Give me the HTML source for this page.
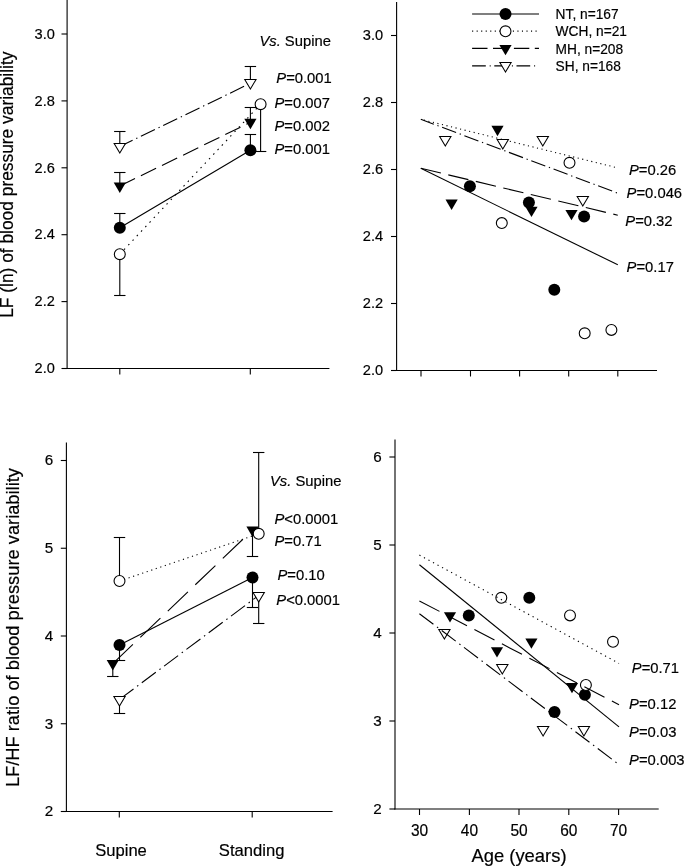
<!DOCTYPE html>
<html><head><meta charset="utf-8"><title>Figure</title>
<style>
html,body{margin:0;padding:0;background:#fff;}
body{width:685px;height:866px;overflow:hidden;}
svg{display:block;filter:grayscale(1);}
text{font-family:"Liberation Sans",sans-serif;fill:#000;stroke:#000;stroke-width:0.18px;}
</style></head><body>
<svg width="685" height="866" viewBox="0 0 685 866">
<rect width="685" height="866" fill="#fff"/>
<line x1="67.1" y1="0" x2="67.1" y2="369.05" stroke="#000" stroke-width="1.1" stroke-linecap="butt"/>
<line x1="66.55" y1="368.5" x2="329.4" y2="368.5" stroke="#000" stroke-width="1.1" stroke-linecap="butt"/>
<line x1="61.49999999999999" y1="368.5" x2="67.1" y2="368.5" stroke="#000" stroke-width="1.1" stroke-linecap="butt"/>
<text transform="translate(54.90,373.25) scale(1,0.99)" font-size="14.6" text-anchor="end" >2.0</text>
<line x1="61.49999999999999" y1="301.5999999999999" x2="67.1" y2="301.5999999999999" stroke="#000" stroke-width="1.1" stroke-linecap="butt"/>
<text transform="translate(54.90,306.35) scale(1,0.99)" font-size="14.6" text-anchor="end" >2.2</text>
<line x1="61.49999999999999" y1="234.70000000000002" x2="67.1" y2="234.70000000000002" stroke="#000" stroke-width="1.1" stroke-linecap="butt"/>
<text transform="translate(54.90,239.45) scale(1,0.99)" font-size="14.6" text-anchor="end" >2.4</text>
<line x1="61.49999999999999" y1="167.79999999999998" x2="67.1" y2="167.79999999999998" stroke="#000" stroke-width="1.1" stroke-linecap="butt"/>
<text transform="translate(54.90,172.55) scale(1,0.99)" font-size="14.6" text-anchor="end" >2.6</text>
<line x1="61.49999999999999" y1="100.90000000000003" x2="67.1" y2="100.90000000000003" stroke="#000" stroke-width="1.1" stroke-linecap="butt"/>
<text transform="translate(54.90,105.65) scale(1,0.99)" font-size="14.6" text-anchor="end" >2.8</text>
<line x1="61.49999999999999" y1="34.0" x2="67.1" y2="34.0" stroke="#000" stroke-width="1.1" stroke-linecap="butt"/>
<text transform="translate(54.90,38.75) scale(1,0.99)" font-size="14.6" text-anchor="end" >3.0</text>
<line x1="119.8" y1="368.5" x2="119.8" y2="374.5" stroke="#000" stroke-width="1.1" stroke-linecap="butt"/>
<line x1="250.3" y1="368.5" x2="250.3" y2="374.5" stroke="#000" stroke-width="1.1" stroke-linecap="butt"/>
<line x1="119.8" y1="227.8" x2="250.4" y2="150.2" stroke="#000" stroke-width="1.1" stroke-linecap="butt"/>
<line x1="119.8" y1="254.2" x2="260.6" y2="104.2" stroke="#000" stroke-width="1.1" stroke-linecap="butt" stroke-dasharray="1.51 4.70" stroke-dashoffset="0.0"/>
<line x1="119.8" y1="186" x2="250.4" y2="122.3" stroke="#000" stroke-width="1.1" stroke-linecap="butt" stroke-dasharray="16.91 6.56" stroke-dashoffset="0.0"/>
<line x1="119.8" y1="146.5" x2="250.4" y2="83.3" stroke="#000" stroke-width="1.1" stroke-linecap="butt" stroke-dasharray="15.55 4.00 1.33 3.89" stroke-dashoffset="1.3331232680608136"/>
<line x1="119.8" y1="146.5" x2="119.8" y2="131.5" stroke="#000" stroke-width="1.1" stroke-linecap="butt"/>
<line x1="114.1" y1="131.5" x2="125.5" y2="131.5" stroke="#000" stroke-width="1.1" stroke-linecap="butt"/>
<line x1="250.4" y1="83.3" x2="250.4" y2="66.5" stroke="#000" stroke-width="1.1" stroke-linecap="butt"/>
<line x1="244.70000000000002" y1="66.5" x2="256.1" y2="66.5" stroke="#000" stroke-width="1.1" stroke-linecap="butt"/>
<line x1="119.8" y1="186" x2="119.8" y2="172.5" stroke="#000" stroke-width="1.1" stroke-linecap="butt"/>
<line x1="114.1" y1="172.5" x2="125.5" y2="172.5" stroke="#000" stroke-width="1.1" stroke-linecap="butt"/>
<line x1="250.4" y1="122.3" x2="250.4" y2="107.5" stroke="#000" stroke-width="1.1" stroke-linecap="butt"/>
<line x1="244.70000000000002" y1="107.5" x2="256.1" y2="107.5" stroke="#000" stroke-width="1.1" stroke-linecap="butt"/>
<line x1="119.8" y1="227.8" x2="119.8" y2="213.5" stroke="#000" stroke-width="1.1" stroke-linecap="butt"/>
<line x1="114.1" y1="213.5" x2="125.5" y2="213.5" stroke="#000" stroke-width="1.1" stroke-linecap="butt"/>
<line x1="250.4" y1="150.2" x2="250.4" y2="134.5" stroke="#000" stroke-width="1.1" stroke-linecap="butt"/>
<line x1="244.70000000000002" y1="134.5" x2="256.1" y2="134.5" stroke="#000" stroke-width="1.1" stroke-linecap="butt"/>
<line x1="119.8" y1="254.2" x2="119.8" y2="295.5" stroke="#000" stroke-width="1.1" stroke-linecap="butt"/>
<line x1="114.1" y1="295.5" x2="125.5" y2="295.5" stroke="#000" stroke-width="1.1" stroke-linecap="butt"/>
<line x1="260.6" y1="104.2" x2="260.6" y2="151.5" stroke="#000" stroke-width="1.1" stroke-linecap="butt"/>
<line x1="254.90000000000003" y1="151.5" x2="266.3" y2="151.5" stroke="#000" stroke-width="1.1" stroke-linecap="butt"/>
<path d="M114.15,143.50L125.45,143.50L119.80,153.05Z" fill="#fff" stroke="#000" stroke-width="1.05" stroke-linejoin="miter"/>
<path d="M244.75,79.50L256.05,79.50L250.40,89.05Z" fill="#fff" stroke="#000" stroke-width="1.05" stroke-linejoin="miter"/>
<path d="M113.7,182.5L125.89999999999999,182.5L119.8,192.9Z" fill="#000"/>
<path d="M244.3,118.8L256.5,118.8L250.4,129.2Z" fill="#000"/>
<circle cx="119.8" cy="227.8" r="6" fill="#000"/>
<circle cx="250.4" cy="150.2" r="6" fill="#000"/>
<circle cx="119.8" cy="254.2" r="5.45" fill="#fff" stroke="#000" stroke-width="1.1"/>
<circle cx="260.6" cy="104.2" r="5.45" fill="#fff" stroke="#000" stroke-width="1.1"/>
<text transform="translate(259.4,46.4) scale(1,1.04)" font-size="14.8"><tspan font-style="italic">Vs.</tspan> Supine</text>
<text transform="translate(276.30,83.30) scale(1,1.04)" font-size="14.8"><tspan font-style="italic">P</tspan>=0.001</text>
<text transform="translate(274.50,107.90) scale(1,1.04)" font-size="14.8"><tspan font-style="italic">P</tspan>=0.007</text>
<text transform="translate(274.50,130.60) scale(1,1.04)" font-size="14.8"><tspan font-style="italic">P</tspan>=0.002</text>
<text transform="translate(274.50,154.40) scale(1,1.04)" font-size="14.8"><tspan font-style="italic">P</tspan>=0.001</text>
<text transform="translate(13.4,317.8) rotate(-90) scale(1,1.08)" font-size="17.37">LF (ln) of blood pressure variability</text>
<line x1="396.6" y1="2" x2="396.6" y2="371.05" stroke="#000" stroke-width="1.1" stroke-linecap="butt"/>
<line x1="396.05" y1="370.5" x2="657" y2="370.5" stroke="#000" stroke-width="1.1" stroke-linecap="butt"/>
<line x1="391.0" y1="370.5" x2="396.6" y2="370.5" stroke="#000" stroke-width="1.1" stroke-linecap="butt"/>
<text transform="translate(383.10,375.45) scale(1,1.03)" font-size="14.6" text-anchor="end" >2.0</text>
<line x1="391.0" y1="303.49999999999994" x2="396.6" y2="303.49999999999994" stroke="#000" stroke-width="1.1" stroke-linecap="butt"/>
<text transform="translate(383.10,308.45) scale(1,1.03)" font-size="14.6" text-anchor="end" >2.2</text>
<line x1="391.0" y1="236.50000000000003" x2="396.6" y2="236.50000000000003" stroke="#000" stroke-width="1.1" stroke-linecap="butt"/>
<text transform="translate(383.10,241.45) scale(1,1.03)" font-size="14.6" text-anchor="end" >2.4</text>
<line x1="391.0" y1="169.49999999999997" x2="396.6" y2="169.49999999999997" stroke="#000" stroke-width="1.1" stroke-linecap="butt"/>
<text transform="translate(383.10,174.45) scale(1,1.03)" font-size="14.6" text-anchor="end" >2.6</text>
<line x1="391.0" y1="102.50000000000006" x2="396.6" y2="102.50000000000006" stroke="#000" stroke-width="1.1" stroke-linecap="butt"/>
<text transform="translate(383.10,107.45) scale(1,1.03)" font-size="14.6" text-anchor="end" >2.8</text>
<line x1="391.0" y1="35.5" x2="396.6" y2="35.5" stroke="#000" stroke-width="1.1" stroke-linecap="butt"/>
<text transform="translate(383.10,40.45) scale(1,1.03)" font-size="14.6" text-anchor="end" >3.0</text>
<line x1="421" y1="370.5" x2="421" y2="376.5" stroke="#000" stroke-width="1.1" stroke-linecap="butt"/>
<line x1="470.5" y1="370.5" x2="470.5" y2="376.5" stroke="#000" stroke-width="1.1" stroke-linecap="butt"/>
<line x1="519.6" y1="370.5" x2="519.6" y2="376.5" stroke="#000" stroke-width="1.1" stroke-linecap="butt"/>
<line x1="568.7" y1="370.5" x2="568.7" y2="376.5" stroke="#000" stroke-width="1.1" stroke-linecap="butt"/>
<line x1="617.8" y1="370.5" x2="617.8" y2="376.5" stroke="#000" stroke-width="1.1" stroke-linecap="butt"/>
<circle cx="469.9" cy="186.2" r="6" fill="#000"/>
<circle cx="528.9" cy="202.5" r="6" fill="#000"/>
<circle cx="554.3" cy="289.7" r="6" fill="#000"/>
<circle cx="584.1" cy="216.6" r="6" fill="#000"/>
<line x1="420.8" y1="168.3" x2="617.8" y2="264.8" stroke="#000" stroke-width="1.1" stroke-linecap="butt"/>
<circle cx="501.8" cy="223.1" r="5.45" fill="#fff" stroke="#000" stroke-width="1.1"/>
<circle cx="569.5" cy="162.8" r="5.45" fill="#fff" stroke="#000" stroke-width="1.1"/>
<circle cx="584.7" cy="333.3" r="5.45" fill="#fff" stroke="#000" stroke-width="1.1"/>
<circle cx="611.4" cy="329.9" r="5.45" fill="#fff" stroke="#000" stroke-width="1.1"/>
<line x1="420.8" y1="119.3" x2="617.8" y2="167.9" stroke="#000" stroke-width="1.1" stroke-linecap="butt" stroke-dasharray="1.13 3.53" stroke-dashoffset="1.544971703957227"/>
<path d="M445.5,199.6L457.70000000000005,199.6L451.6,210.0Z" fill="#000"/>
<path d="M491.4,125.80000000000001L503.6,125.80000000000001L497.5,136.20000000000002Z" fill="#000"/>
<path d="M525.4,206.7L537.6,206.7L531.5,217.1Z" fill="#000"/>
<path d="M565.4,209.9L577.6,209.9L571.5,220.3Z" fill="#000"/>
<line x1="420.8" y1="168.3" x2="617.8" y2="215.2" stroke="#000" stroke-width="1.1" stroke-linecap="butt" stroke-dasharray="20.66 7.61" stroke-dashoffset="0.0"/>
<path d="M439.65,136.50L450.95,136.50L445.30,146.05Z" fill="#fff" stroke="#000" stroke-width="1.05" stroke-linejoin="miter"/>
<path d="M497.15,139.50L508.45,139.50L502.80,149.05Z" fill="#fff" stroke="#000" stroke-width="1.05" stroke-linejoin="miter"/>
<path d="M537.15,136.50L548.45,136.50L542.80,146.05Z" fill="#fff" stroke="#000" stroke-width="1.05" stroke-linejoin="miter"/>
<path d="M577.15,196.50L588.45,196.50L582.80,206.05Z" fill="#fff" stroke="#000" stroke-width="1.05" stroke-linejoin="miter"/>
<line x1="420.8" y1="119.3" x2="617.8" y2="193.2" stroke="#000" stroke-width="1.1" stroke-linecap="butt" stroke-dasharray="14.95 3.84 1.28 3.74" stroke-dashoffset="1.068045033586827"/>
<text transform="translate(629.00,174.80) scale(1,1.04)" font-size="14.8"><tspan font-style="italic">P</tspan>=0.26</text>
<text transform="translate(626.60,197.60) scale(1,1.04)" font-size="14.8"><tspan font-style="italic">P</tspan>=0.046</text>
<text transform="translate(625.30,225.80) scale(1,1.04)" font-size="14.8"><tspan font-style="italic">P</tspan>=0.32</text>
<text transform="translate(626.60,272.00) scale(1,1.04)" font-size="14.8"><tspan font-style="italic">P</tspan>=0.17</text>
<line x1="472.1" y1="14.0" x2="539" y2="14.0" stroke="#000" stroke-width="1.1" stroke-linecap="butt"/>
<circle cx="505.5" cy="13.9" r="6" fill="#000"/>
<line x1="472.1" y1="31.1" x2="539" y2="31.1" stroke="#000" stroke-width="1.1" stroke-linecap="butt" stroke-dasharray="1.10 3.43" stroke-dashoffset="0.0"/>
<circle cx="505.5" cy="31.3" r="5.45" fill="#fff" stroke="#000" stroke-width="1.1"/>
<line x1="472.1" y1="48.4" x2="539" y2="48.4" stroke="#000" stroke-width="1.1" stroke-linecap="butt" stroke-dasharray="15.40 5.50" stroke-dashoffset="0.0"/>
<path d="M499.4,44.9L511.6,44.9L505.5,55.3Z" fill="#000"/>
<line x1="472.1" y1="65.9" x2="536" y2="65.9" stroke="#000" stroke-width="1.1" stroke-linecap="butt" stroke-dasharray="13.70 3.90 1.00 3.60" stroke-dashoffset="0.0"/>
<path d="M499.85,62.50L511.15,62.50L505.50,72.05Z" fill="#fff" stroke="#000" stroke-width="1.05" stroke-linejoin="miter"/>
<text transform="translate(555.60,18.80) scale(1,1.05)" font-size="13.75" text-anchor="start" >NT, n=167</text>
<text transform="translate(555.60,36.20) scale(1,1.05)" font-size="13.75" text-anchor="start" >WCH, n=21</text>
<text transform="translate(555.60,53.50) scale(1,1.05)" font-size="13.75" text-anchor="start" >MH, n=208</text>
<text transform="translate(555.60,70.80) scale(1,1.05)" font-size="13.75" text-anchor="start" >SH, n=168</text>
<line x1="66.4" y1="442.6" x2="66.4" y2="812.05" stroke="#000" stroke-width="1.1" stroke-linecap="butt"/>
<line x1="65.85000000000001" y1="811.5" x2="332.6" y2="811.5" stroke="#000" stroke-width="1.1" stroke-linecap="butt"/>
<line x1="60.800000000000004" y1="811.5" x2="66.4" y2="811.5" stroke="#000" stroke-width="1.1" stroke-linecap="butt"/>
<text transform="translate(53.20,816.40) scale(1,1.0)" font-size="15.2" text-anchor="end" >2</text>
<line x1="60.800000000000004" y1="723.75" x2="66.4" y2="723.75" stroke="#000" stroke-width="1.1" stroke-linecap="butt"/>
<text transform="translate(53.20,728.65) scale(1,1.0)" font-size="15.2" text-anchor="end" >3</text>
<line x1="60.800000000000004" y1="636.0" x2="66.4" y2="636.0" stroke="#000" stroke-width="1.1" stroke-linecap="butt"/>
<text transform="translate(53.20,640.90) scale(1,1.0)" font-size="15.2" text-anchor="end" >4</text>
<line x1="60.800000000000004" y1="548.25" x2="66.4" y2="548.25" stroke="#000" stroke-width="1.1" stroke-linecap="butt"/>
<text transform="translate(53.20,553.15) scale(1,1.0)" font-size="15.2" text-anchor="end" >5</text>
<line x1="60.800000000000004" y1="460.5" x2="66.4" y2="460.5" stroke="#000" stroke-width="1.1" stroke-linecap="butt"/>
<text transform="translate(53.20,465.40) scale(1,1.0)" font-size="15.2" text-anchor="end" >6</text>
<line x1="119.3" y1="811.5" x2="119.3" y2="817.5" stroke="#000" stroke-width="1.1" stroke-linecap="butt"/>
<line x1="252.2" y1="811.5" x2="252.2" y2="817.5" stroke="#000" stroke-width="1.1" stroke-linecap="butt"/>
<line x1="119.5" y1="645.1" x2="252.5" y2="577.5" stroke="#000" stroke-width="1.1" stroke-linecap="butt"/>
<line x1="119.5" y1="581" x2="258.7" y2="533.8" stroke="#000" stroke-width="1.1" stroke-linecap="butt" stroke-dasharray="1.16 3.62" stroke-dashoffset="0.0"/>
<line x1="112.8" y1="663.6" x2="252.5" y2="530.1" stroke="#000" stroke-width="1.1" stroke-linecap="butt" stroke-dasharray="27.80 10.24" stroke-dashoffset="0.0"/>
<line x1="119.5" y1="699.4" x2="258.7" y2="595.4" stroke="#000" stroke-width="1.1" stroke-linecap="butt" stroke-dasharray="17.48 4.49 1.50 4.37" stroke-dashoffset="0.0"/>
<line x1="119.5" y1="699.4" x2="119.5" y2="713.5" stroke="#000" stroke-width="1.1" stroke-linecap="butt"/>
<line x1="113.8" y1="713.5" x2="125.2" y2="713.5" stroke="#000" stroke-width="1.1" stroke-linecap="butt"/>
<line x1="258.7" y1="595.4" x2="258.7" y2="623.5" stroke="#000" stroke-width="1.1" stroke-linecap="butt"/>
<line x1="253.0" y1="623.5" x2="264.4" y2="623.5" stroke="#000" stroke-width="1.1" stroke-linecap="butt"/>
<path d="M113.85,696.50L125.15,696.50L119.50,706.05Z" fill="#fff" stroke="#000" stroke-width="1.05" stroke-linejoin="miter"/>
<path d="M253.05,592.50L264.35,592.50L258.70,602.05Z" fill="#fff" stroke="#000" stroke-width="1.05" stroke-linejoin="miter"/>
<line x1="112.8" y1="663.6" x2="112.8" y2="676.5" stroke="#000" stroke-width="1.1" stroke-linecap="butt"/>
<line x1="107.1" y1="676.5" x2="118.5" y2="676.5" stroke="#000" stroke-width="1.1" stroke-linecap="butt"/>
<line x1="252.5" y1="530.1" x2="252.5" y2="556.5" stroke="#000" stroke-width="1.1" stroke-linecap="butt"/>
<line x1="246.8" y1="556.5" x2="258.2" y2="556.5" stroke="#000" stroke-width="1.1" stroke-linecap="butt"/>
<path d="M106.7,660.1L118.89999999999999,660.1L112.8,670.5Z" fill="#000"/>
<path d="M246.4,526.6L258.6,526.6L252.5,537.0Z" fill="#000"/>
<line x1="119.5" y1="581" x2="119.5" y2="537.5" stroke="#000" stroke-width="1.1" stroke-linecap="butt"/>
<line x1="113.8" y1="537.5" x2="125.2" y2="537.5" stroke="#000" stroke-width="1.1" stroke-linecap="butt"/>
<line x1="258.7" y1="533.8" x2="258.7" y2="452.5" stroke="#000" stroke-width="1.1" stroke-linecap="butt"/>
<line x1="253.0" y1="452.5" x2="264.4" y2="452.5" stroke="#000" stroke-width="1.1" stroke-linecap="butt"/>
<circle cx="119.5" cy="581" r="5.45" fill="#fff" stroke="#000" stroke-width="1.1"/>
<circle cx="258.7" cy="533.8" r="5.45" fill="#fff" stroke="#000" stroke-width="1.1"/>
<line x1="119.5" y1="645.1" x2="119.5" y2="660.5" stroke="#000" stroke-width="1.1" stroke-linecap="butt"/>
<line x1="113.8" y1="660.5" x2="125.2" y2="660.5" stroke="#000" stroke-width="1.1" stroke-linecap="butt"/>
<line x1="252.5" y1="577.5" x2="252.5" y2="607.5" stroke="#000" stroke-width="1.1" stroke-linecap="butt"/>
<line x1="246.8" y1="607.5" x2="258.2" y2="607.5" stroke="#000" stroke-width="1.1" stroke-linecap="butt"/>
<circle cx="119.5" cy="645.1" r="6" fill="#000"/>
<circle cx="252.5" cy="577.5" r="6" fill="#000"/>
<text transform="translate(270,486.2) scale(1,1.04)" font-size="14.8"><tspan font-style="italic">Vs.</tspan> Supine</text>
<text transform="translate(274.50,523.90) scale(1,1.04)" font-size="14.8"><tspan font-style="italic">P</tspan>&lt;0.0001</text>
<text transform="translate(274.50,546.40) scale(1,1.04)" font-size="14.8"><tspan font-style="italic">P</tspan>=0.71</text>
<text transform="translate(277.50,579.90) scale(1,1.04)" font-size="14.8"><tspan font-style="italic">P</tspan>=0.10</text>
<text transform="translate(276.30,605.00) scale(1,1.04)" font-size="14.8"><tspan font-style="italic">P</tspan>&lt;0.0001</text>
<text transform="translate(19.4,787.1) rotate(-90)" font-size="18.3">LF/HF ratio of blood pressure variability</text>
<text transform="translate(121.00,855.60) scale(1,1.0)" font-size="16.6" text-anchor="middle" >Supine</text>
<text transform="translate(251.60,855.60) scale(1,1.0)" font-size="16.6" text-anchor="middle" >Standing</text>
<line x1="395.0" y1="439.5" x2="395.0" y2="809.55" stroke="#000" stroke-width="1.1" stroke-linecap="butt"/>
<line x1="394.45" y1="809.0" x2="658.7" y2="809.0" stroke="#000" stroke-width="1.1" stroke-linecap="butt"/>
<line x1="389.4" y1="809.0" x2="395.0" y2="809.0" stroke="#000" stroke-width="1.1" stroke-linecap="butt"/>
<text transform="translate(381.60,813.90) scale(1,1.0)" font-size="15.2" text-anchor="end" >2</text>
<line x1="389.4" y1="721.0" x2="395.0" y2="721.0" stroke="#000" stroke-width="1.1" stroke-linecap="butt"/>
<text transform="translate(381.60,725.90) scale(1,1.0)" font-size="15.2" text-anchor="end" >3</text>
<line x1="389.4" y1="633.0" x2="395.0" y2="633.0" stroke="#000" stroke-width="1.1" stroke-linecap="butt"/>
<text transform="translate(381.60,637.90) scale(1,1.0)" font-size="15.2" text-anchor="end" >4</text>
<line x1="389.4" y1="545.0" x2="395.0" y2="545.0" stroke="#000" stroke-width="1.1" stroke-linecap="butt"/>
<text transform="translate(381.60,549.90) scale(1,1.0)" font-size="15.2" text-anchor="end" >5</text>
<line x1="389.4" y1="457.0" x2="395.0" y2="457.0" stroke="#000" stroke-width="1.1" stroke-linecap="butt"/>
<text transform="translate(381.60,461.90) scale(1,1.0)" font-size="15.2" text-anchor="end" >6</text>
<line x1="419.5" y1="809.0" x2="419.5" y2="815.0" stroke="#000" stroke-width="1.1" stroke-linecap="butt"/>
<line x1="469.4" y1="809.0" x2="469.4" y2="815.0" stroke="#000" stroke-width="1.1" stroke-linecap="butt"/>
<line x1="519" y1="809.0" x2="519" y2="815.0" stroke="#000" stroke-width="1.1" stroke-linecap="butt"/>
<line x1="568.8" y1="809.0" x2="568.8" y2="815.0" stroke="#000" stroke-width="1.1" stroke-linecap="butt"/>
<line x1="618.6" y1="809.0" x2="618.6" y2="815.0" stroke="#000" stroke-width="1.1" stroke-linecap="butt"/>
<circle cx="468.8" cy="615.4" r="6" fill="#000"/>
<circle cx="529.3" cy="597.8" r="6" fill="#000"/>
<circle cx="554.5" cy="712" r="6" fill="#000"/>
<circle cx="584.9" cy="694.8" r="6" fill="#000"/>
<line x1="419.4" y1="564.7" x2="619" y2="726.9" stroke="#000" stroke-width="1.1" stroke-linecap="butt"/>
<circle cx="501.3" cy="597.8" r="5.45" fill="#fff" stroke="#000" stroke-width="1.1"/>
<circle cx="570" cy="615.4" r="5.45" fill="#fff" stroke="#000" stroke-width="1.1"/>
<circle cx="613" cy="641.8" r="5.45" fill="#fff" stroke="#000" stroke-width="1.1"/>
<circle cx="585.9" cy="685" r="5.45" fill="#fff" stroke="#000" stroke-width="1.1"/>
<line x1="419.4" y1="555.1" x2="619" y2="663.4" stroke="#000" stroke-width="1.1" stroke-linecap="butt" stroke-dasharray="1.25 3.90" stroke-dashoffset="0.0"/>
<path d="M443.9,612.2L456.1,612.2L450,622.6Z" fill="#000"/>
<path d="M490.9,647.2L503.1,647.2L497,657.6Z" fill="#000"/>
<path d="M525.3,638.4L537.5,638.4L531.4,648.8Z" fill="#000"/>
<path d="M565.9,682.9L578.1,682.9L572,693.3Z" fill="#000"/>
<line x1="419.4" y1="600.9" x2="619" y2="704.8" stroke="#000" stroke-width="1.1" stroke-linecap="butt" stroke-dasharray="22.66 8.34" stroke-dashoffset="0.0"/>
<path d="M438.75,629.50L450.05,629.50L444.40,639.05Z" fill="#fff" stroke="#000" stroke-width="1.05" stroke-linejoin="miter"/>
<path d="M496.65,664.50L507.95,664.50L502.30,674.05Z" fill="#fff" stroke="#000" stroke-width="1.05" stroke-linejoin="miter"/>
<path d="M537.45,726.50L548.75,726.50L543.10,736.05Z" fill="#fff" stroke="#000" stroke-width="1.05" stroke-linejoin="miter"/>
<path d="M578.25,726.50L589.55,726.50L583.90,736.05Z" fill="#fff" stroke="#000" stroke-width="1.05" stroke-linejoin="miter"/>
<line x1="419.4" y1="613.7" x2="619" y2="764.6" stroke="#000" stroke-width="1.1" stroke-linecap="butt" stroke-dasharray="17.55 4.51 1.50 4.39" stroke-dashoffset="0.0"/>
<text transform="translate(631.80,672.60) scale(1,1.04)" font-size="14.8"><tspan font-style="italic">P</tspan>=0.71</text>
<text transform="translate(629.10,709.20) scale(1,1.04)" font-size="14.8"><tspan font-style="italic">P</tspan>=0.12</text>
<text transform="translate(629.10,736.60) scale(1,1.04)" font-size="14.8"><tspan font-style="italic">P</tspan>=0.03</text>
<text transform="translate(629.10,765.00) scale(1,1.04)" font-size="14.8"><tspan font-style="italic">P</tspan>=0.003</text>
<text transform="translate(419.50,835.50) scale(1,1.03)" font-size="15.5" text-anchor="middle" >30</text>
<text transform="translate(469.40,835.50) scale(1,1.03)" font-size="15.5" text-anchor="middle" >40</text>
<text transform="translate(519.00,835.50) scale(1,1.03)" font-size="15.5" text-anchor="middle" >50</text>
<text transform="translate(568.80,835.50) scale(1,1.03)" font-size="15.5" text-anchor="middle" >60</text>
<text transform="translate(618.60,835.50) scale(1,1.03)" font-size="15.5" text-anchor="middle" >70</text>
<text transform="translate(519.00,862.20) scale(1,1.0)" font-size="18.4" text-anchor="middle" >Age (years)</text>
</svg>
</body></html>
